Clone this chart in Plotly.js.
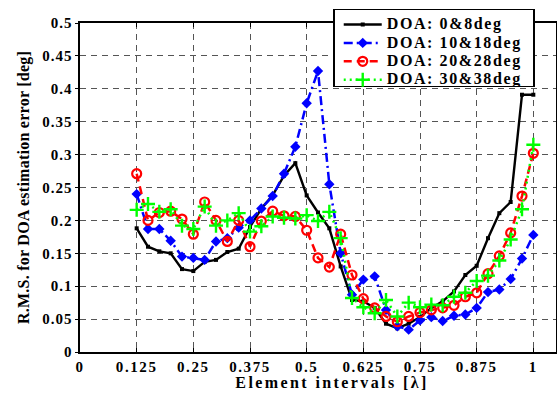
<!DOCTYPE html>
<html>
<head>
<meta charset="utf-8">
<script src="https://cdn.plot.ly/plotly-3.0.1.min.js"></script>
<style>
html,body{margin:0;padding:0;background:#fff;}
#chart{width:557px;height:394px;}
.legendtext{font-size:16px !important;letter-spacing:1.6px;}
.xtick text{letter-spacing:1.6px;}
.ytick text{letter-spacing:1px;}
.g-xtitle text{letter-spacing:2.4px;}
.g-ytitle text{letter-spacing:0.25px;}
.g-xtitle{transform:translate(14px,0px);}
</style>
</head>
<body>
<div id="chart"></div>
<script>
// Element intervals [lambda]
const xVals = [0.125,0.15,0.175,0.2,0.225,0.25,0.275,0.3,0.325,0.35,0.375,0.4,0.425,0.45,0.475,0.5,
  0.525,0.55,0.575,0.6,0.625,0.65,0.675,0.7,0.725,0.75,0.775,0.8,0.825,0.85,0.875,0.9,0.925,0.95,0.975,1.0];

const doa0_8 = [0.188,0.160,0.153,0.150,0.126,0.123,0.137,0.140,0.152,0.157,0.190,0.218,0.238,0.268,0.287,0.238,
  0.212,0.188,0.130,0.079,0.077,0.067,0.043,0.036,0.043,0.053,0.067,0.077,0.092,0.117,0.131,0.173,0.211,0.228,0.391,0.391];

const doa10_18 = [0.240,0.187,0.187,0.169,0.145,0.143,0.140,0.168,0.173,0.189,0.200,0.218,0.237,0.271,0.312,0.378,
  0.427,0.255,0.150,0.087,0.110,0.115,0.064,0.039,0.034,0.048,0.053,0.047,0.055,0.057,0.067,0.091,0.095,0.111,0.142,0.178];

const doa20_28 = [0.271,0.200,0.212,0.214,0.202,0.179,0.228,0.200,0.168,0.200,0.160,0.199,0.214,0.207,0.206,0.185,
  0.143,0.129,0.179,0.117,0.081,0.067,0.054,0.046,0.054,0.060,0.064,0.067,0.071,0.084,0.090,0.119,0.146,0.181,0.237,0.302];

const doa30_38 = [0.216,0.225,0.213,0.217,0.192,0.187,0.221,0.192,0.200,0.211,0.183,0.191,0.206,0.204,0.203,0.208,
  0.199,0.213,0.173,0.082,0.068,0.059,0.079,0.054,0.075,0.068,0.072,0.071,0.084,0.090,0.108,0.116,0.139,0.171,0.217,0.315];

const seriesNames = ['DOA: 0&8deg','DOA: 10&18deg','DOA: 20&28deg','DOA: 30&38deg'];

const xTickVals = [0,0.125,0.25,0.375,0.5,0.625,0.75,0.875,1];
const xTickText = ['0','0.125','0.25','0.375','0.5','0.625','0.75','0.875','1'];
const yTickVals = [0,0.05,0.1,0.15,0.2,0.25,0.3,0.35,0.4,0.45,0.5];
const yTickText = ['0','0.05','0.1','0.15','0.2','0.25','0.3','0.35','0.4','0.45','0.5'];

const serif = 'Liberation Serif, Times New Roman, serif';

const traces = [
  {x:xVals, y:doa0_8, name:seriesNames[0], mode:'lines+markers', type:'scatter',
   line:{color:'#000000', width:2.4},
   marker:{symbol:'square', size:4, color:'#000000'}},
  {x:xVals, y:doa10_18, name:seriesNames[1], mode:'lines+markers', type:'scatter',
   line:{color:'#0000ff', width:2.5, dash:'9px,4px,2px,4px'},
   marker:{symbol:'diamond', size:8, color:'#0000ff'}},
  {x:xVals, y:doa20_28, name:seriesNames[2], mode:'lines+markers', type:'scatter',
   line:{color:'#ff0000', width:2.5, dash:'8px,5px'},
   marker:{symbol:'circle-open', size:9, color:'#ff0000', line:{width:2.2, color:'#ff0000'}}},
  {x:xVals, y:doa30_38, name:seriesNames[3], mode:'lines+markers', type:'scatter',
   line:{color:'#00ff00', width:2.5, dash:'2px,4px'},
   marker:{symbol:'cross-thin-open', size:10, color:'#00ff00', line:{width:2.4, color:'#00ff00'}}}
];

const layout = {
  width:557, height:394,
  margin:{l:80, r:1, t:23, b:42},
  paper_bgcolor:'#ffffff', plot_bgcolor:'#ffffff',
  font:{family:serif, size:14, color:'#000', weight:'bold'},
  showlegend:true,
  legend:{x:0.532, y:1.044, xanchor:'left', yanchor:'top',
    bgcolor:'#ffffff', bordercolor:'#000000', borderwidth:1.5,
    font:{family:serif, size:12, color:'#000', weight:'bold'},
    itemwidth:38, indentation:4, tracegroupgap:0},
  xaxis:{
    range:[0,1.05], tickmode:'array', tickvals:xTickVals, ticktext:xTickText,
    showgrid:true, gridcolor:'#555555', gridwidth:1, griddash:'6px,5px',
    zeroline:false, showline:true, linecolor:'#000', linewidth:1.6, mirror:'ticks',
    ticks:'inside', ticklen:4, tickcolor:'#000', tickwidth:1,
    tickfont:{family:serif, size:15, color:'#000', weight:'bold'},
    title:{text:'Element intervals [λ]', standoff:3,
      font:{family:serif, size:16, color:'#000', weight:'bold'}}
  },
  yaxis:{
    range:[0,0.5], tickmode:'array', tickvals:yTickVals, ticktext:yTickText,
    showgrid:true, gridcolor:'#555555', gridwidth:1, griddash:'6px,5px',
    zeroline:false, showline:true, linecolor:'#000', linewidth:1.6, mirror:'ticks',
    ticks:'outside', ticklen:3, tickcolor:'#000', tickwidth:1,
    tickfont:{family:serif, size:15, color:'#000', weight:'bold'},
    title:{text:'R.M.S. for DOA estimation error [deg]', standoff:8,
      font:{family:serif, size:16, color:'#000', weight:'bold'}}
  }
};

Plotly.newPlot('chart', traces, layout, {displayModeBar:false, staticPlot:true}).then(function(gd){
  // Fit the legend frame to the larger legend text and tighten the row spacing
  const leg = gd.querySelector('g.legend');
  if(!leg) return;
  const rowStep = 18.4, boxW = 200, boxH = 77;
  const items = leg.querySelectorAll('g.traces');
  let y0 = null;
  items.forEach(function(g, i){
    const m = /translate\(\s*([-\d.]+)[ ,]+([-\d.]+)\s*\)/.exec(g.getAttribute('transform') || '');
    if(!m) return;
    if(y0 === null) y0 = parseFloat(m[2]);
    g.setAttribute('transform', 'translate(' + m[1] + ',' + (y0 + i*rowStep) + ')');
  });
  leg.querySelectorAll('rect.bg').forEach(function(r){
    r.setAttribute('width', boxW); r.setAttribute('height', boxH);
  });
  document.querySelectorAll('clipPath[id*="legend"] rect').forEach(function(r){
    r.setAttribute('width', boxW); r.setAttribute('height', boxH);
  });
});
</script>
</body>
</html>
